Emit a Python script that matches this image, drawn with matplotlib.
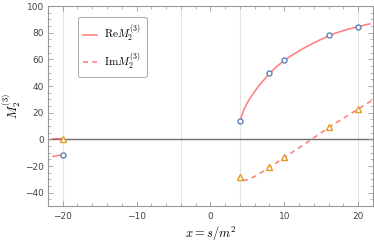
import numpy as np
import matplotlib.pyplot as plt
from matplotlib.ticker import MultipleLocator

plt.rcParams["mathtext.fontset"] = "cm"

# sampled points (markers)
x_pts = [-20, 4, 8, 10, 16, 20]
re_pts = [-11.5, 13.5, 49.5, 59.5, 78.0, 84.5]
im_pts = [0.3, -28.5, -21.0, -13.3, 9.2, 23.0]

# curves
x_re_curve = [4.0, 4.25, 4.5, 5.0, 5.5, 6.0, 6.5, 7.0, 7.5, 8.0, 9.0, 10.0, 11.0, 12.0,
              13.0, 14.0, 15.0, 16.0, 17.0, 18.0, 19.0, 20.0, 21.0, 21.6]
re_curve = [13.5, 17.8, 21.8, 27.5, 32.0, 36.0, 39.8, 43.0, 46.3, 49.5, 54.7, 59.3,
            63.0, 66.4, 69.5, 72.4, 75.1, 77.6, 79.8, 81.6, 83.2, 84.6, 86.0, 86.7]
x_im_curve = [4.4, 5.0, 6.0, 7.0, 8.0, 9.0, 10.0, 11.0, 12.0, 13.0, 14.0,
              15.0, 16.0, 17.0, 18.0, 19.0, 20.0, 21.0, 21.8]
im_curve = [-31.0, -30.3, -27.8, -24.5, -21.0, -17.3, -13.6, -10.0, -6.3, -2.6,
            1.2, 5.0, 8.8, 12.3, 15.8, 19.3, 22.8, 26.2, 29.0]
x_left_curve = [-21.3, -20.0]
re_left_curve = [-12.8, -11.5]
im_left_curve = [0.2, 0.3]

grid_x = [-20, -4, 4, 20]

line_c = "#FF8484"
blue = "#5E81B5"
orange = "#E19C24"

fig = plt.figure(figsize=(3.74, 2.45), dpi=100)
ax = fig.add_axes([0.128, 0.159, 0.869, 0.816])

for gx in grid_x:
    ax.axvline(gx, color="#E4E4E4", lw=0.8, zorder=0)
ax.axhline(0, color="#6E6E6E", lw=1.0, zorder=1)

ax.plot(x_re_curve, re_curve, color=line_c, lw=1.2, label=r"$\mathrm{Re}M_2^{(3)}$", zorder=2)
ax.plot(x_im_curve, im_curve, color=line_c, lw=1.2, ls=(0, (3, 2.5)),
        label=r"$\mathrm{Im}M_2^{(3)}$", zorder=2)
ax.plot(x_left_curve, re_left_curve, color=line_c, lw=1.2, zorder=2)
ax.plot(x_left_curve, im_left_curve, color="#C86060", lw=1.2, zorder=2)

ax.plot(x_pts, re_pts, ls="none", marker="o", ms=3.6, mfc="white", mec=blue, mew=1.0, zorder=3)
ax.plot(x_pts, im_pts, ls="none", marker="^", ms=4.0, mfc="white", mec=orange, mew=1.0, zorder=3)

ax.set_xlim(-22, 22)
ax.set_ylim(-50, 100)
ax.xaxis.set_major_locator(MultipleLocator(10))
ax.xaxis.set_minor_locator(MultipleLocator(2))
ax.yaxis.set_major_locator(MultipleLocator(20))
ax.yaxis.set_minor_locator(MultipleLocator(5))
ax.tick_params(which="both", direction="in", top=True, right=True, color="#999999",
               labelsize=6.5, labelcolor="#444444")
ax.tick_params(which="major", length=3.5, width=0.6)
ax.tick_params(which="minor", length=2, width=0.5)
ax.tick_params(axis="x", labeltop=False, pad=4)
ax.tick_params(axis="y", labelright=False, pad=3)
for s in ax.spines.values():
    s.set_color("#999999")
    s.set_linewidth(0.8)

ax.set_xlabel(r"$x = s/m^2$", fontsize=9, labelpad=3)
ax.set_ylabel(r"$M_2^{(3)}$", fontsize=9, labelpad=1)

leg = ax.legend(loc="upper left", bbox_to_anchor=(0.092, 0.945), borderaxespad=0,
                fontsize=8, frameon=True, fancybox=True, edgecolor="#AAAAAA",
                framealpha=1, handlelength=1.25, labelspacing=0.55, borderpad=0.5,
                handletextpad=0.65)
leg.get_frame().set_linewidth(0.7)

fig.savefig("out.png", dpi=100)
